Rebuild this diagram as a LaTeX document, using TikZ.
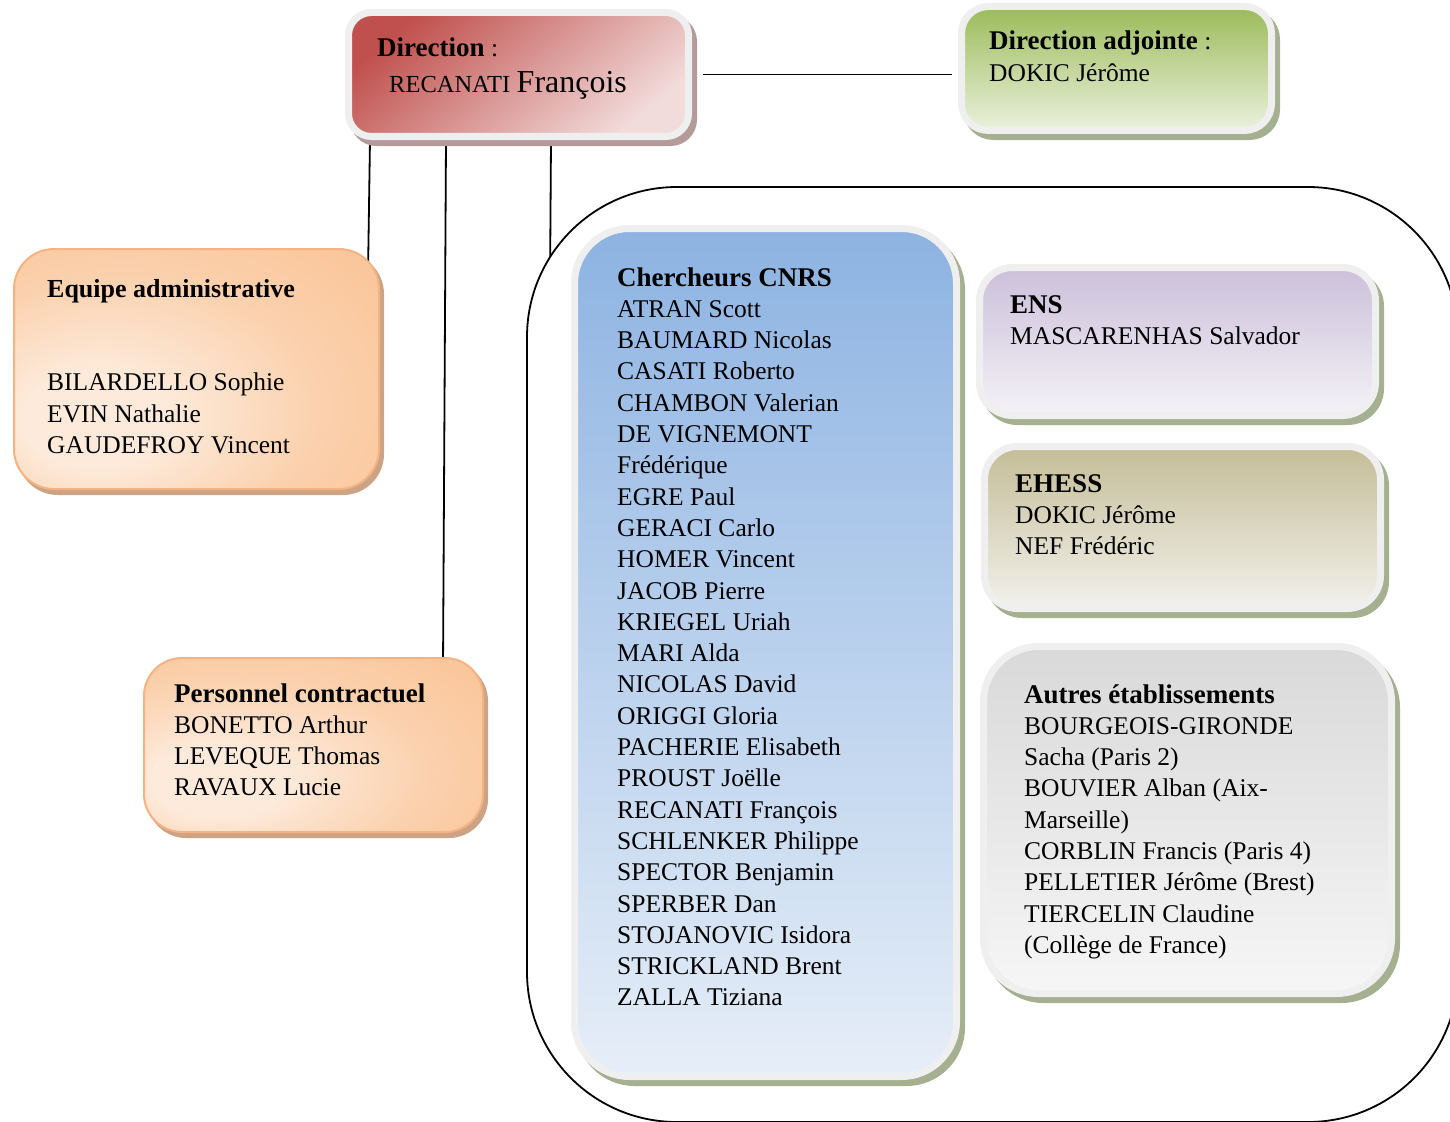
\documentclass[tikz,border=0pt]{standalone}
\usepackage{fontspec}
\setmainfont{Liberation Serif}
\usetikzlibrary{shadows,calc}
\pgfdeclarelayer{bg}
\pgfsetlayers{bg,main}
\definecolor{bordergray}{HTML}{EFEFEF}
\definecolor{dirtop}{HTML}{C0504D}
\definecolor{dirbot}{HTML}{F2DCDB}
\definecolor{dirshadow}{HTML}{B59A9A}
\definecolor{adjtop}{HTML}{9BBB59}
\definecolor{adjbot}{HTML}{EBF1DE}
\definecolor{oliveshadow}{HTML}{A4B08F}
\definecolor{bluetop}{HTML}{8DB3E2}
\definecolor{bluebot}{HTML}{E6EEF8}
\definecolor{enstop}{HTML}{CCC0DA}
\definecolor{ensmid}{HTML}{EAE5F0}
\definecolor{ensbot}{HTML}{F4F2F7}
\definecolor{ehesstop}{HTML}{C4BD97}
\definecolor{ehessmid}{HTML}{DDD9C4}
\definecolor{ehessbot}{HTML}{F2F1EC}
\definecolor{autrestop}{HTML}{D9D9D9}
\definecolor{autresbot}{HTML}{F6F6F6}
\definecolor{orin}{HTML}{FDEADA}
\definecolor{orout}{HTML}{FAC090}
\definecolor{ormid}{HTML}{FBD0AC}
\definecolor{orborder}{HTML}{F5B383}
\definecolor{orshadow}{HTML}{CDA385}
\pgfdeclareradialshading{orshade}{\pgfpoint{-16bp}{-12bp}}{color(0bp)=(orin); color(10bp)=(orin); color(28bp)=(ormid); color(50bp)=(orout); color(80bp)=(orout)}
\tikzset{
  wbox/.style={draw=bordergray, line width=7pt, inner sep=0pt, rounded corners=#1},
  obox/.style={draw=orborder, line width=2pt, inner sep=0pt, rounded corners=#1,
    shading=orshade,
    drop shadow={shadow xshift=4pt, shadow yshift=-5pt, fill=orshadow, draw=orshadow, line width=2pt, opacity=1}},
  olshadow/.style={drop shadow={shadow xshift=5pt, shadow yshift=-6pt, fill=oliveshadow, draw=oliveshadow, line width=7pt, opacity=1}},
  txt/.style={font=\fontsize{25.5}{31.3}\selectfont, align=left, anchor=base west, inner sep=0pt},
  conn/.style={draw=black, line width=1.8pt},
}
\newcommand{\hd}[1]{{\fontsize{27}{31.3}\selectfont\textbf{#1}}}
\begin{document}
\begin{tikzpicture}[x=1pt,y=-1pt]
\useasboundingbox (0,0) rectangle (1450,1121);
\clip (0,0) rectangle (1450,1121);

% big frame
\node[draw=black, line width=1.8pt, fill=white, rounded corners=150pt, inner sep=0pt,
  minimum width=931pt, minimum height=935pt] (frame) at (992.5,654.5) {};

% Direction
\node[wbox=23pt, minimum width=340pt, minimum height=124pt,
  top color=dirtop, bottom color=dirbot, shading angle=40,
  drop shadow={shadow xshift=5pt, shadow yshift=-6pt, fill=dirshadow, draw=dirshadow, line width=7pt, opacity=1}]
  (dir) at (518.5,74.5) {};
% Direction adjointe
\node[wbox=27pt, olshadow, minimum width=310pt, minimum height=124pt,
  top color=adjtop, bottom color=adjbot] (dadj) at (1116.5,68.5) {};
% Equipe administrative
\node[obox=40pt, minimum width=365pt, minimum height=240pt] (equipe) at (196.5,369) {};
% Personnel contractuel
\node[obox=38pt, minimum width=339pt, minimum height=174pt] (perso) at (313.5,745) {};
% Chercheurs CNRS
\node[wbox=55pt, olshadow, minimum width=382pt, minimum height=848pt,
  top color=bluetop, bottom color=bluebot] (cnrs) at (765.5,652.5) {};
% ENS
\node[wbox=33pt, olshadow, minimum width=396pt, minimum height=148pt,
  top color=enstop, middle color=ensmid, bottom color=ensbot] (ens) at (1177.5,341.5) {};
% EHESS
\node[wbox=33pt, olshadow, minimum width=396pt, minimum height=162pt,
  top color=ehesstop, middle color=ehessmid, bottom color=ehessbot] (ehess) at (1182.5,527.5) {};
% Autres
\node[wbox=55pt, olshadow, minimum width=408pt, minimum height=347pt,
  top color=autrestop, bottom color=autresbot] (autres) at (1187.5,820) {};

% texts (anchor = baseline of the last line)
\node[txt] (tdir) at (377,57) {\hd{Direction} :};
\node[txt] (tdir2) at (389,93) {{\fontsize{24.5}{30}\selectfont RECANATI} {\fontsize{32}{36}\selectfont François}};
\node[txt] (tadj) at (989,81.3) {\hd{Direction adjointe} :\\DOKIC Jérôme};
\node[txt] (tequipe) at (47,453.5) {{\fontsize{26}{31.3}\selectfont\textbf{Equipe administrative}}\\[62.6pt]BILARDELLO Sophie\\EVIN Nathalie\\GAUDEFROY Vincent};
\node[txt] (tperso) at (174,795.9) {\hd{Personnel contractuel}\\BONETTO Arthur\\LEVEQUE Thomas\\RAVAUX Lucie};
\node[txt] (tcnrs) at (617,1005.9) {\hd{Chercheurs CNRS}\\ATRAN Scott\\BAUMARD Nicolas\\CASATI Roberto\\CHAMBON Valerian\\DE VIGNEMONT\\Frédérique\\EGRE Paul\\GERACI Carlo\\HOMER Vincent\\JACOB Pierre\\KRIEGEL Uriah\\MARI Alda\\NICOLAS David\\ORIGGI Gloria\\PACHERIE Elisabeth\\PROUST Joëlle\\RECANATI François\\SCHLENKER Philippe\\SPECTOR Benjamin\\SPERBER Dan\\STOJANOVIC Isidora\\STRICKLAND Brent\\ZALLA Tiziana};
\node[txt] (tens) at (1010,344.3) {\hd{ENS}\\MASCARENHAS Salvador};
\node[txt] (tehess) at (1015,554.6) {\hd{EHESS}\\DOKIC Jérôme\\NEF Frédéric};
\node[txt] (tautres) at (1024,953.4) {\hd{Autres établissements}\\BOURGEOIS-GIRONDE\\Sacha (Paris 2)\\BOUVIER Alban (Aix-\\Marseille)\\CORBLIN Francis (Paris 4)\\PELLETIER Jérôme (Brest)\\TIERCELIN Claudine\\(Collège de France)};

% connectors
\begin{pgfonlayer}{bg}
\draw[conn] ([xshift=-148.5pt]dir.south) -- ([xshift=171.5pt,yshift=-25pt]equipe.north);
\draw[conn] ([xshift=-72.5pt]dir.south) -- ([xshift=129.5pt,yshift=-10pt]perso.north);
\draw[conn] ([xshift=32.5pt]dir.south) -- ([xshift=-442.5pt,yshift=-100pt]frame.north);
\draw[conn, shorten <=11pt, shorten >=6pt] (dir.east) -- (dir.east -| dadj.west);
\end{pgfonlayer}
\end{tikzpicture}
\end{document}
